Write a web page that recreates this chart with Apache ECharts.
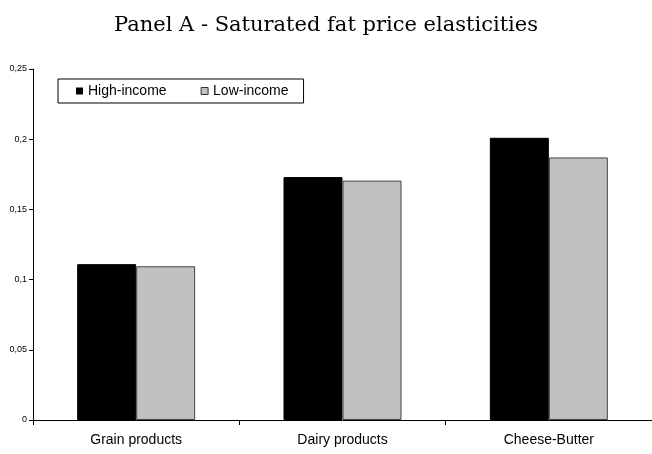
<!DOCTYPE html>
<html>
<head>
<meta charset="utf-8">
<script src="https://cdn.jsdelivr.net/npm/echarts@6/dist/echarts.min.js"></script>
<style>
  html, body { margin: 0; padding: 0; background: #fff; }
  #chart { width: 652px; height: 454px; }
</style>
</head>
<body>
<div id="chart"></div>
<script>
// Saturated fat price elasticities by food group and income level
const categories = ['Grain products', 'Dairy products', 'Cheese-Butter'];
const highIncome = [0.111, 0.173, 0.201];
const lowIncome = [0.1095, 0.1705, 0.187];
const yTicks = { min: 0, max: 0.25, interval: 0.05 };

const chart = echarts.init(document.getElementById('chart'));

chart.setOption({
  animation: false,
  title: {
    text: 'Panel A - Saturated fat price elasticities',
    left: 'center',
    top: 10,
    textStyle: { fontFamily: 'DejaVu Serif', fontWeight: 'normal', fontSize: 21, color: '#000' }
  },
  legend: {
    left: 58,
    top: 79,
    orient: 'horizontal',
    itemWidth: 7,
    itemHeight: 7,
    itemGap: 34,
    padding: [5, 15, 5, 18],
    borderColor: '#000',
    borderWidth: 1,
    textStyle: { fontFamily: 'Liberation Sans', fontSize: 14, color: '#000' },
    data: [
      { name: 'High-income', icon: 'rect', itemStyle: { borderWidth: 0 } },
      { name: 'Low-income', icon: 'rect', itemStyle: { borderColor: '#333', borderWidth: 1 } }
    ]
  },
  grid: { left: 33, top: 69, width: 624, height: 351 },
  xAxis: {
    type: 'category',
    data: categories,
    axisLine: { lineStyle: { color: '#000', width: 1 } },
    axisTick: { show: true, inside: false, length: 5, lineStyle: { color: '#000' } },
    axisLabel: { fontFamily: 'Liberation Sans', fontSize: 14, color: '#000', margin: 13 }
  },
  yAxis: {
    type: 'value',
    min: yTicks.min,
    max: yTicks.max,
    interval: yTicks.interval,
    splitLine: { show: false },
    axisLine: { show: true, lineStyle: { color: '#000', width: 1 } },
    axisTick: { show: true, length: 4, lineStyle: { color: '#000' } },
    axisLabel: {
      fontFamily: 'Liberation Sans', fontSize: 9, color: '#000', margin: 6,
      formatter: v => String(Math.round(v * 100) / 100).replace('.', ',')
    }
  },
  series: [
    {
      name: 'High-income',
      type: 'bar',
      data: highIncome,
      barWidth: 59,
      barGap: '0%',
      itemStyle: { color: '#000', borderColor: '#000', borderWidth: 1 }
    },
    {
      name: 'Low-income',
      type: 'bar',
      data: lowIncome,
      barWidth: 59,
      barGap: '0%',
      itemStyle: { color: '#c0c0c0', borderColor: '#444', borderWidth: 1 }
    }
  ]
});
</script>
</body>
</html>
